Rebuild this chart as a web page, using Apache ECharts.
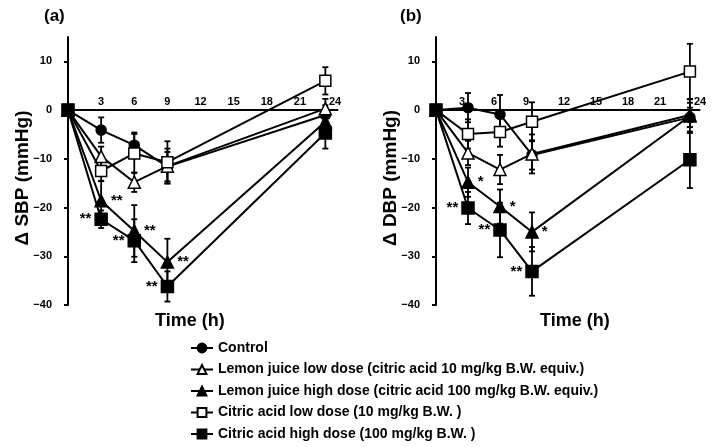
<!DOCTYPE html>
<html>
<head>
<meta charset="utf-8">
<script src="https://cdn.jsdelivr.net/npm/echarts@6/dist/echarts.min.js"></script>
<style>
  html, body { margin: 0; padding: 0; background: #fff; }
  #chart { width: 712px; height: 447px; }
</style>
</head>
<body>
<div id="chart"></div>
<script>
// series names (legend order)
const names = [
  'Control',
  'Lemon juice low dose (citric acid 10 mg/kg B.W. equiv.)',
  'Lemon juice high dose (citric acid 100 mg/kg B.W. equiv.)',
  'Citric acid low dose (10 mg/kg B.W. )',
  'Citric acid high dose (100 mg/kg B.W. )'
];

// (a) change in SBP
const timesA = [0, 3, 6, 9, 23.3];
const controlA = [0, -4.1, -7.2, -11.6, -1];
const controlAErr = [0, 2.6, 2.6, 3, 2];
const lemonLowA = [0, -9.5, -14.8, -11.5, 0.3];
const lemonLowAErr = [0, 2, 2, 3.6, 2];
const lemonHighA = [0, -18.6, -24.8, -31.2, -2.4];
const lemonHighAErr = [0, 4, 5.3, 4.8, 2];
const citricLowA = [0, -12.5, -8.9, -10.7, 6.0];
const citricLowAErr = [0, 2, 4, 4.3, 2.8];
const citricHighA = [0, -22.4, -26.8, -36.2, -4.7];
const citricHighAErr = [0, 1.8, 4.4, 3.1, 3.2];
const starsLemonHighA = ['', '**', '**', '**', ''];
const starsCitricHighA = ['', '**', '**', '**', ''];

// (b) change in DBP
const timesB = [0, 3, 6, 9, 23.8];
const controlB = [0, 0.5, -0.9, -9.2, -1.5];
const controlBErr = [0, 3, 4, 3, 2];
const lemonLowB = [0, -8.8, -12.2, -9, -1];
const lemonLowBErr = [0, 2.5, 3, 4, 2.5];
const lemonHighB = [0, -14.8, -19.8, -25, -1.2];
const lemonHighBErr = [0, 3, 3.5, 4, 3.5];
const citricLowB = [0, -4.9, -4.5, -2.4, 7.9];
const citricLowBErr = [0, 3, 3, 4, 5.7];
const citricHighB = [0, -20.1, -24.6, -33.1, -10.2];
const citricHighBErr = [0, 3.3, 5.6, 5, 5.8];
const starsLemonHighB = ['', '*', '*', '*', ''];
const starsCitricHighB = ['', '**', '**', '**', ''];

// axis ticks
const yMin = -40, yMax = 15, yStep = 10;
const xStep = 3;

const FONT = 'Liberation Sans, Arial, sans-serif';
const GRID_TOP = 37, GRID_H = 268;
// move the x axis up to y = 0 (offset from the bottom edge)
const X_OFFSET = -GRID_H * (0 - yMin) / (yMax - yMin);

const markers = [
  { symbol: 'circle', size: 10, fill: '#000' },
  { symbol: 'triangle', size: 12, fill: '#fff' },
  { symbol: 'triangle', size: 12, fill: '#000' },
  { symbol: 'rect', size: 11, fill: '#fff' },
  { symbol: 'rect', size: 12, fill: '#000' }
];

function lineSeries(idx, panel, times, values, stars, starPos) {
  const m = markers[idx];
  return {
    name: names[idx],
    type: 'line',
    xAxisIndex: panel,
    yAxisIndex: panel,
    symbol: m.symbol,
    symbolSize: m.size,
    showAllSymbol: true,
    z: 3 + idx,
    lineStyle: { color: '#000', width: 2 },
    itemStyle: { color: m.fill, borderColor: '#000', borderWidth: 1.5 },
    data: values.map((v, i) => ({
      value: [times[i], v],
      label: {
        show: !!(stars && stars[i]),
        formatter: stars ? stars[i] : '',
        position: starPos,
        distance: 3,
        color: '#000',
        fontFamily: FONT,
        fontWeight: 'bold',
        fontSize: 15
      }
    })),
    emphasis: { disabled: true },
    animation: false
  };
}

function errSeries(idx, panel, times, values, errs) {
  return {
    type: 'custom',
    xAxisIndex: panel,
    yAxisIndex: panel,
    z: 2,
    silent: true,
    animation: false,
    data: values.map((v, i) => [times[i], v, errs[i]]),
    renderItem: function (params, api) {
      const x = api.value(0), y = api.value(1), e = api.value(2);
      if (!e) return null;
      const top = api.coord([x, y + e]);
      const bot = api.coord([x, y - e]);
      const w = 3;
      const style = { stroke: '#000', lineWidth: 1.8 };
      return {
        type: 'group',
        children: [
          { type: 'line', shape: { x1: top[0], y1: top[1], x2: bot[0], y2: bot[1] }, style: style },
          { type: 'line', shape: { x1: top[0] - w, y1: top[1], x2: top[0] + w, y2: top[1] }, style: style },
          { type: 'line', shape: { x1: bot[0] - w, y1: bot[1], x2: bot[0] + w, y2: bot[1] }, style: style }
        ]
      };
    }
  };
}

const labelBase = { fontFamily: FONT, fontWeight: 'bold', fontSize: 11, color: '#000' };

// labelStyle: rich style name per tick value, nudging labels off the error bars
function xAxis(panel, max, labelStyle) {
  return {
    type: 'value',
    gridIndex: panel,
    position: 'bottom',
    offset: X_OFFSET,
    min: 0,
    max: max,
    interval: xStep,
    axisLine: { onZero: false, lineStyle: { color: '#000', width: 2 } },
    axisTick: { show: false },
    splitLine: { show: false },
    axisLabel: Object.assign({}, labelBase, {
      inside: true,
      margin: 3,
      showMaxLabel: false,
      formatter: v => {
        if (!(v > 0 && v % xStep === 0)) return '';
        const s = labelStyle[v];
        return s ? '{' + s + '|' + v + '}' : String(v);
      },
      rich: {
        l: Object.assign({}, labelBase, { padding: [0, 12, 0, 0] }),
        r: Object.assign({}, labelBase, { padding: [0, 0, 0, 16] }),
        r2: Object.assign({}, labelBase, { padding: [0, 0, 0, 4] })
      }
    })
  };
}

function yAxis(panel, name) {
  return {
    type: 'value',
    gridIndex: panel,
    min: yMin,
    max: yMax,
    interval: yStep,
    name: name,
    nameLocation: 'middle',
    nameGap: 36,
    nameMoveOverlap: false,
    nameRotate: 90,
    nameTextStyle: { color: '#000', fontFamily: FONT, fontWeight: 'bold', fontSize: 19, padding: [0, 14, 0, 0] },
    axisLine: { onZero: false, lineStyle: { color: '#000', width: 2 } },
    axisTick: { show: true, length: 4, lineStyle: { color: '#000', width: 2 } },
    splitLine: { show: false },
    axisLabel: Object.assign({}, labelBase, {
      margin: 16,
      showMaxLabel: false,
      formatter: v => v === yMax ? '' : (v < 0 ? '\u2212' + (-v) : String(v))
    })
  };
}

const series = [
  errSeries(0, 0, timesA, controlA, controlAErr),
  errSeries(1, 0, timesA, lemonLowA, lemonLowAErr),
  errSeries(2, 0, timesA, lemonHighA, lemonHighAErr),
  errSeries(3, 0, timesA, citricLowA, citricLowAErr),
  errSeries(4, 0, timesA, citricHighA, citricHighAErr),
  lineSeries(0, 0, timesA, controlA),
  lineSeries(1, 0, timesA, lemonLowA),
  lineSeries(2, 0, timesA, lemonHighA, starsLemonHighA, 'right'),
  lineSeries(3, 0, timesA, citricLowA),
  lineSeries(4, 0, timesA, citricHighA, starsCitricHighA, 'left'),
  errSeries(0, 1, timesB, controlB, controlBErr),
  errSeries(1, 1, timesB, lemonLowB, lemonLowBErr),
  errSeries(2, 1, timesB, lemonHighB, lemonHighBErr),
  errSeries(3, 1, timesB, citricLowB, citricLowBErr),
  errSeries(4, 1, timesB, citricHighB, citricHighBErr),
  lineSeries(0, 1, timesB, controlB),
  lineSeries(1, 1, timesB, lemonLowB),
  lineSeries(2, 1, timesB, lemonHighB, starsLemonHighB, 'right'),
  lineSeries(3, 1, timesB, citricLowB),
  lineSeries(4, 1, timesB, citricHighB, starsCitricHighB, 'left')
];

const titleStyle = { color: '#000', fontFamily: FONT, fontWeight: 'bold', fontSize: 17 };
const nameStyle = { color: '#000', fontFamily: FONT, fontWeight: 'bold', fontSize: 18 };

const chart = echarts.init(document.getElementById('chart'), null, { renderer: 'canvas' });
chart.setOption({
  animation: false,
  backgroundColor: '#fff',
  title: [
    { text: '(a)', left: 44, top: 8, padding: 0, textStyle: titleStyle },
    { text: '(b)', left: 400, top: 8, padding: 0, textStyle: titleStyle },
    { text: 'Time (h)', left: 155, top: 312, padding: 0, textStyle: nameStyle },
    { text: 'Time (h)', left: 540, top: 312, padding: 0, textStyle: nameStyle }
  ],
  legend: {
    data: names,
    orient: 'vertical',
    left: 190,
    top: 341,
    padding: 0,
    itemGap: 7.5,
    itemWidth: 22,
    itemHeight: 11,
    selectedMode: false,
    textStyle: { color: '#000', fontFamily: FONT, fontWeight: 'bold', fontSize: 14 }
  },
  grid: [
    { left: 68, top: GRID_TOP, width: 269.5, height: GRID_H },
    { left: 436, top: GRID_TOP, width: 263.5, height: GRID_H }
  ],
  xAxis: [
    xAxis(0, 24.4, { 24: 'r2' }),
    xAxis(1, 24.7, { 3: 'l', 6: 'l', 9: 'l', 24: 'r' })
  ],
  yAxis: [yAxis(0, '\u0394 SBP (mmHg)'), yAxis(1, '\u0394 DBP (mmHg)')],
  series: series
});
</script>
</body>
</html>
